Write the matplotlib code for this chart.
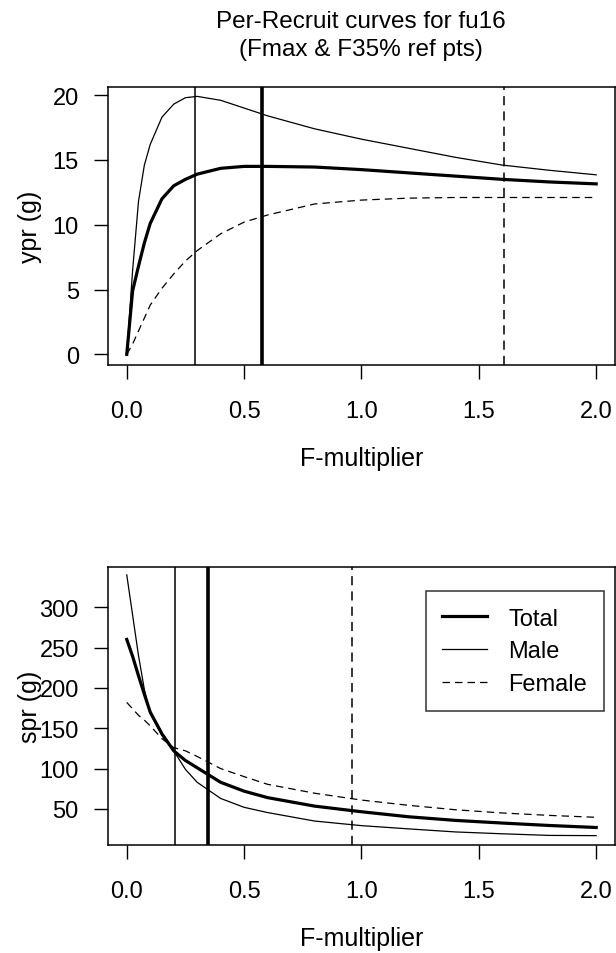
import matplotlib
matplotlib.use("Agg")
import matplotlib.pyplot as plt

plt.rcParams['font.family'] = ['Liberation Sans', 'DejaVu Sans']

# F-multiplier grid where the curves were read
fmult = [0, 0.025, 0.05, 0.075, 0.1, 0.15, 0.2, 0.25, 0.3, 0.4, 0.5, 0.6,
         0.8, 1.0, 1.2, 1.4, 1.6, 1.8, 2.0]

# yield per recruit (g)
ypr_total = [0, 4.9, 6.8, 8.6, 10.1, 12.0, 13.0, 13.5, 13.9, 14.35, 14.5, 14.5,
             14.45, 14.25, 14.0, 13.75, 13.5, 13.3, 13.15]
ypr_male = [0, 6.5, 11.8, 14.6, 16.2, 18.3, 19.3, 19.8, 19.9, 19.6, 19.0, 18.4,
            17.4, 16.6, 15.9, 15.2, 14.6, 14.2, 13.85]
ypr_female = [0, 0.8, 1.8, 2.8, 3.8, 5.1, 6.2, 7.2, 8.0, 9.3, 10.2, 10.75,
              11.6, 11.9, 12.05, 12.1, 12.1, 12.1, 12.1]

# spawning stock biomass per recruit (g)
spr_total = [260, 239, 215, 192, 170, 143, 122, 110, 101, 83, 72, 64,
             53.5, 46.5, 40.3, 35.8, 32.5, 29.5, 27]
spr_male = [340, 290, 240, 198, 168, 141, 122, 99, 83, 63, 52, 45.5,
            35, 29.3, 25.3, 21.5, 19.2, 17.2, 16.9]
spr_female = [182, 174, 166, 160, 153, 137, 126, 122, 115, 100, 90, 80.5,
              69.5, 61, 54.5, 49, 45, 42, 39.6]

# reference points: Total, Male, Female
fmax_pts = [0.576, 0.29, 1.609]
f35_pts = [0.344, 0.205, 0.961]

fig = plt.figure(figsize=(6.16, 9.54), dpi=100)
ax1 = fig.add_axes([0.1753, 0.6164, 0.823, 0.2917])
ax2 = fig.add_axes([0.1753, 0.1132, 0.823, 0.2911])

fig.text(0.586, 0.977, "Per-Recruit curves for fu16", ha='center', va='center', fontsize=17.5)
fig.text(0.586, 0.948, "(Fmax & F35% ref pts)", ha='center', va='center', fontsize=17.5)


def panel(ax, tot, male, fem, refs, ylab, yticks, ylim):
    ax.plot(fmult, tot, color='black', lw=2.3)
    ax.plot(fmult, male, color='black', lw=0.9)
    ax.plot(fmult, fem, color='black', lw=0.9, dashes=(6, 4))
    ax.axvline(refs[0], color='black', lw=2.6)
    ax.axvline(refs[1], color='black', lw=1.1)
    ax.axvline(refs[2], color='black', lw=1.1, dashes=(6, 4))
    ax.set_xlim(-0.08, 2.08)
    ax.set_ylim(*ylim)
    ax.set_xticks([0, 0.5, 1.0, 1.5, 2.0])
    ax.set_xticklabels(["0.0", "0.5", "1.0", "1.5", "2.0"])
    ax.set_yticks(yticks)
    ax.tick_params(axis='both', length=10, width=1.0, labelsize=17, direction='out')
    ax.tick_params(axis='x', pad=15)
    ax.tick_params(axis='y', pad=11)
    for s in ax.spines.values():
        s.set_linewidth(1.1)
    ax.set_xlabel("F-multiplier", fontsize=18)
    ax.set_ylabel(ylab, fontsize=18)
    ax.xaxis.set_label_coords(0.5, -0.29)
    ax.yaxis.set_label_coords(-0.13, 0.5)


panel(ax1, ypr_total, ypr_male, ypr_female, fmax_pts, "ypr (g)",
      [0, 5, 10, 15, 20], (-0.82, 20.65))
panel(ax2, spr_total, spr_male, spr_female, f35_pts, "spr (g)",
      [50, 100, 150, 200, 250, 300], (5.3, 349.4))

leg_lines = ax2.get_lines()[:3]
leg = ax2.legend(leg_lines, ["Total", "Male", "Female"], loc='upper right',
                 bbox_to_anchor=(0.978, 0.914), fontsize=17, frameon=True,
                 fancybox=False, edgecolor='black', handlelength=1.9,
                 handletextpad=0.9, labelspacing=0.45, borderpad=0.7,
                 borderaxespad=0)
leg.get_frame().set_linewidth(1.1)

fig.savefig("out.png", dpi=100)
